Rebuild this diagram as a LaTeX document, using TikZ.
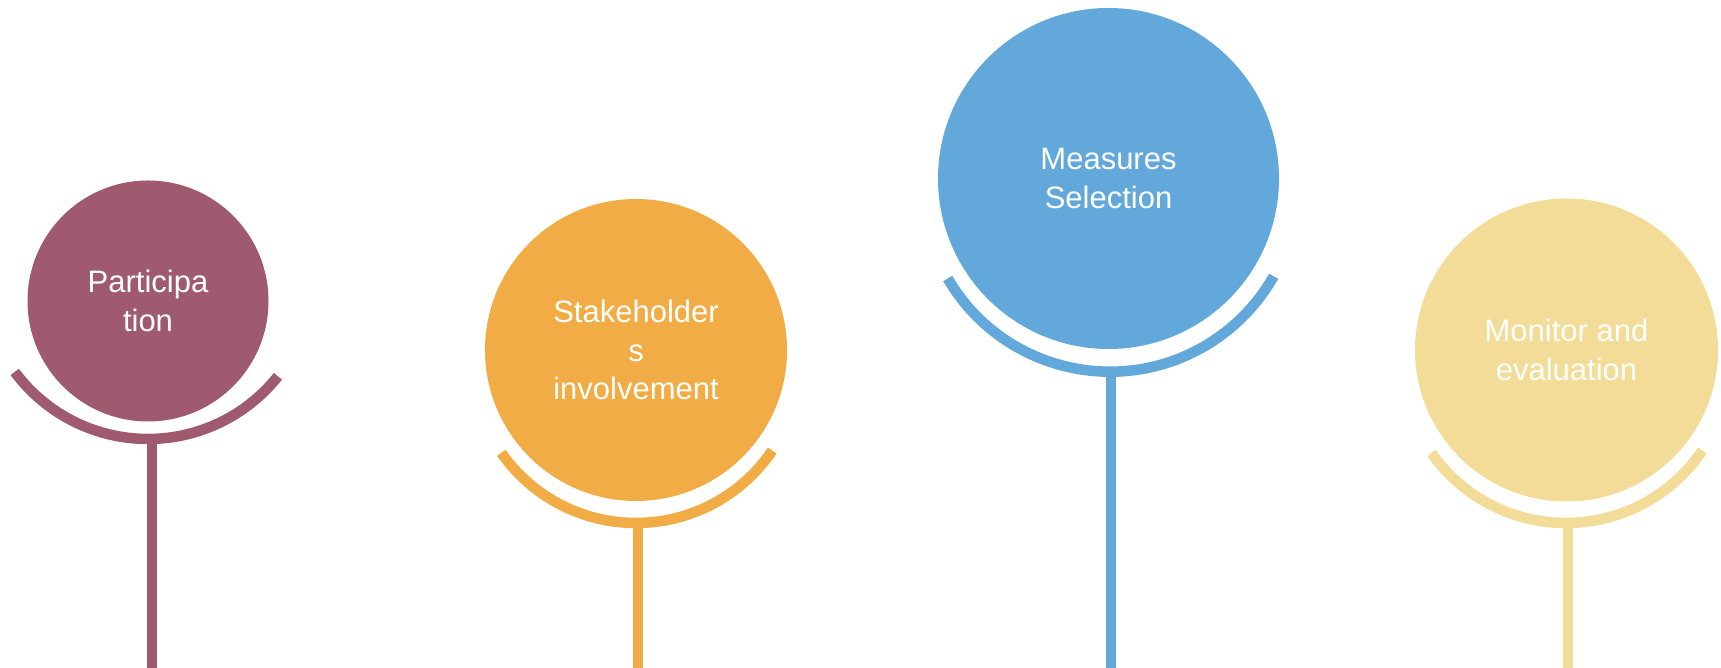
\documentclass[tikz,border=0pt]{standalone}
\usepackage{fontspec}
\setmainfont{Liberation Sans}
\usetikzlibrary{positioning,calc}
\definecolor{plum}{HTML}{A05A70}
\definecolor{amber}{HTML}{F2AC45}
\definecolor{sky}{HTML}{62A8DB}
\definecolor{sand}{HTML}{F3DC98}
\newcommand{\stageNode}[5]{\node[stage, fill=#2, minimum size=#4] (#1) at (#3) {#5};}
\newcommand{\stageArc}[5]{\draw[holder, draw=#1] ($(#2)+(#4:#3)$) arc[start angle=#4, end angle=#5, radius=#3];}

\begin{document}
\begin{tikzpicture}[x=1pt, y=1pt, stage/.style={circle, inner sep=0pt, text=white, align=center,
		font=\fontsize{31}{38.5}\selectfont}, holder/.style={line width=10.5pt}, stem/.style={line width=10pt}]
	\useasboundingbox (0,0) rectangle (1721,668);
	% circles
	\stageNode{part}{plum}{148,367}{241}{Participa\\tion}
	\stageNode{stake}{amber}{636,318}{302}{Stakeholder\\s\\involvement}
	\stageNode{meas}{sky}{1108.5,489.5}{341}{Measures\\Selection}
	\stageNode{moni}{sand}{1566.5,318}{303}{Monitor and\\evaluation}
	% holders
	\stageArc{plum}{148,395}{166}{216.6}{321.5}
	\stageArc{amber}{636,309.4}{164.4}{215}{326}
	\stageArc{sky}{1110,484.3}{188}{210.3}{330.5}
	\stageArc{sand}{1566,309.4}{164.4}{215}{326}
	% stems
	\coordinate (part-top) at (151.5,229); \coordinate (part-foot) at (151.5,0);
	\coordinate (stake-top) at (638,145); \coordinate (stake-foot) at (638,0);
	\coordinate (meas-top) at (1110.5,296.5); \coordinate (meas-foot) at (1110.5,0);
	\coordinate (moni-top) at (1568,145); \coordinate (moni-foot) at (1568,0);
	\draw[stem, plum] (part-top) -- (part-foot);
	\draw[stem, amber] (stake-top) -- (stake-foot);
	\draw[stem, sky] (meas-top) -- (meas-foot);
	\draw[stem, sand] (moni-top) -- (moni-foot);
\end{tikzpicture}
\end{document}
